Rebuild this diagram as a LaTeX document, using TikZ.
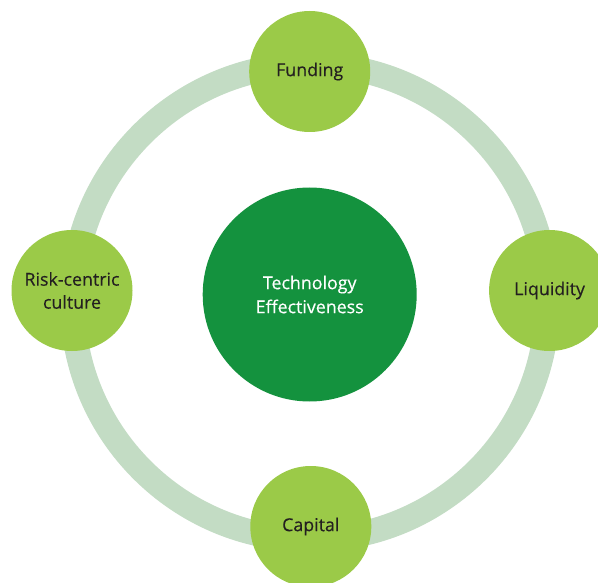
\documentclass[tikz,border=0pt]{standalone}
\usepackage{fontspec}
\setmainfont{Open Sans}
\newfontfamily\labelfont{Open Sans}[FakeBold=0.35]
\definecolor{ringgreen}{RGB}{195,220,196}
\definecolor{leafgreen}{RGB}{155,202,72}
\definecolor{deepgreen}{RGB}{20,146,62}
\definecolor{inkdark}{RGB}{35,31,32}
\begin{document}
\begin{tikzpicture}[x=1pt,y=-1pt,
  pillar/.style={circle, fill=leafgreen, minimum size=121pt, inner sep=0pt,
    text=inkdark, align=center, font=\labelfont\fontsize{17.8}{23}\selectfont},
  hub/.style={circle, fill=deepgreen, minimum size=214pt, inner sep=0pt,
    text=white, align=center, font=\labelfont\fontsize{17.8}{24}\selectfont},
  band/.style={draw=ringgreen, line width=25pt}]
\useasboundingbox (0,0) rectangle (598,583);
\coordinate (ringcentre) at (310,302);
% light band linking the four pillars
\draw[band] (ringcentre) circle (237.5);
% central hub
\node[hub] (tech) at (309.7,294.5) {Technology\\Effectiveness};
% four pillars around the hub
\node[pillar] (funding) at (309.7,71.5) {Funding};
\node[pillar] (liquidity) at (549.6,290.5) {Liquidity};
\node[pillar] (capital) at (310.8,526.5) {Capital};
\node[pillar] (risk) at (72,290.5) {Risk-centric\\culture};
\end{tikzpicture}
\end{document}
